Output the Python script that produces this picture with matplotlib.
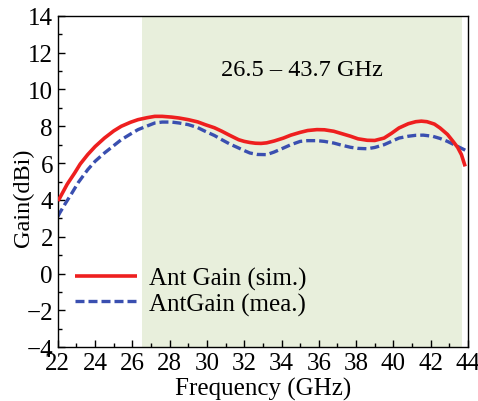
import matplotlib
matplotlib.use("Agg")
import matplotlib.pyplot as plt
from matplotlib.ticker import MultipleLocator

plt.rcParams["font.family"] = ["Liberation Serif", "DejaVu Serif"]

# simulated gain (GHz, dBi)
freq_sim = [22.0, 22.1, 22.5, 22.9, 23.2, 23.6, 24.0, 24.5, 25.0, 25.4, 25.9,
            26.3, 26.8, 27.2, 27.6, 28.1, 28.5, 29.0, 29.5, 29.9, 30.4, 30.8,
            31.2, 31.7, 32.0, 32.3, 32.6, 32.9, 33.2, 33.6, 34.1, 34.5, 35.0,
            35.4, 35.9, 36.3, 36.8, 37.2, 37.7, 38.1, 38.6, 39.0, 39.5, 39.9,
            40.3, 40.8, 41.2, 41.5, 41.8, 42.2, 42.5, 42.9, 43.2, 43.45,
            43.65, 43.85]
gain_sim = [3.95, 4.1, 4.85, 5.46, 5.95, 6.46, 6.9, 7.36, 7.75, 8.0, 8.22,
            8.36, 8.47, 8.54, 8.54, 8.5, 8.45, 8.36, 8.24, 8.09, 7.92, 7.73,
            7.52, 7.27, 7.18, 7.12, 7.08, 7.07, 7.1, 7.2, 7.36, 7.52, 7.67,
            7.77, 7.82, 7.81, 7.73, 7.61, 7.46, 7.32, 7.24, 7.23, 7.36, 7.62,
            7.91, 8.14, 8.25, 8.28, 8.25, 8.12, 7.91, 7.56, 7.18, 6.85,
            6.46, 5.82]

# measured gain
freq_mea = [22.0, 22.1, 22.4, 22.7, 23.1, 23.6, 24.0, 24.5, 25.0, 25.4, 25.9,
            26.3, 26.8, 27.2, 27.6, 28.1, 28.5, 29.0, 29.5, 29.9, 30.4, 30.8,
            31.2, 31.7, 32.0, 32.3, 32.7, 33.2, 33.6, 34.1, 34.5, 35.0, 35.4,
            35.9, 36.3, 36.8, 37.2, 37.7, 38.1, 38.6, 39.0, 39.5, 39.9, 40.3,
            40.8, 41.2, 41.6, 42.1, 42.5, 42.9, 43.3, 43.8, 44.0]
gain_mea = [3.1, 3.29, 3.8, 4.28, 4.95, 5.64, 6.1, 6.55, 6.95, 7.27, 7.58,
            7.82, 8.02, 8.18, 8.23, 8.23, 8.18, 8.09, 7.93, 7.73, 7.5, 7.27,
            7.05, 6.82, 6.68, 6.55, 6.47, 6.46, 6.6, 6.82, 7.0, 7.18, 7.22,
            7.22, 7.18, 7.09, 6.98, 6.86, 6.8, 6.78, 6.85, 7.0, 7.18, 7.36,
            7.46, 7.51, 7.52, 7.46, 7.34, 7.18, 6.98, 6.73, 6.62]

band = (26.5, 43.7)
band_label = "26.5 \u2013 43.7 GHz"

fs = 18

fig = plt.figure(figsize=(4.78, 4.02), dpi=100)
ax = fig.add_axes([0.121, 0.134, 0.858, 0.824])

ax.axvspan(band[0], band[1], color="#e8efdc", lw=0, zorder=0)
ax.plot(freq_sim, gain_sim, color="#ee1f1f", lw=2.6, label="Ant Gain (sim.)",
        solid_capstyle="butt", solid_joinstyle="round", zorder=3)
ax.plot(freq_mea, gain_mea, color="#3a4fb0", lw=2.4, ls=(0, (2.7, 1.2)),
        label="AntGain (mea.)", zorder=2)

ax.text(35.1, 11.1, band_label, ha="center", va="center", fontsize=17.5)

ax.set_xlim(22, 44)
ax.set_ylim(-4, 14)
ax.xaxis.set_major_locator(MultipleLocator(2))
ax.xaxis.set_minor_locator(MultipleLocator(1))
ax.yaxis.set_major_locator(MultipleLocator(2))
ax.yaxis.set_minor_locator(MultipleLocator(1))
ax.tick_params(which="both", direction="in", top=False, right=False,
               labelsize=fs, width=1.0, pad=3.5)
ax.tick_params(which="major", length=5)
ax.tick_params(which="minor", length=3)
for s in ax.spines.values():
    s.set_linewidth(1.0)

ax.set_xlabel("Frequency (GHz)", fontsize=fs, labelpad=2)
ax.set_ylabel("Gain(dBi)", fontsize=17.5)
ax.yaxis.set_label_coords(-0.058, 0.453)

ax.legend(loc="center left", bbox_to_anchor=(0.041, 0.168), frameon=False,
          fontsize=fs, handlelength=2.5, handletextpad=0.48,
          labelspacing=0.08, borderaxespad=0, borderpad=0)

fig.savefig("out.png", dpi=100)
